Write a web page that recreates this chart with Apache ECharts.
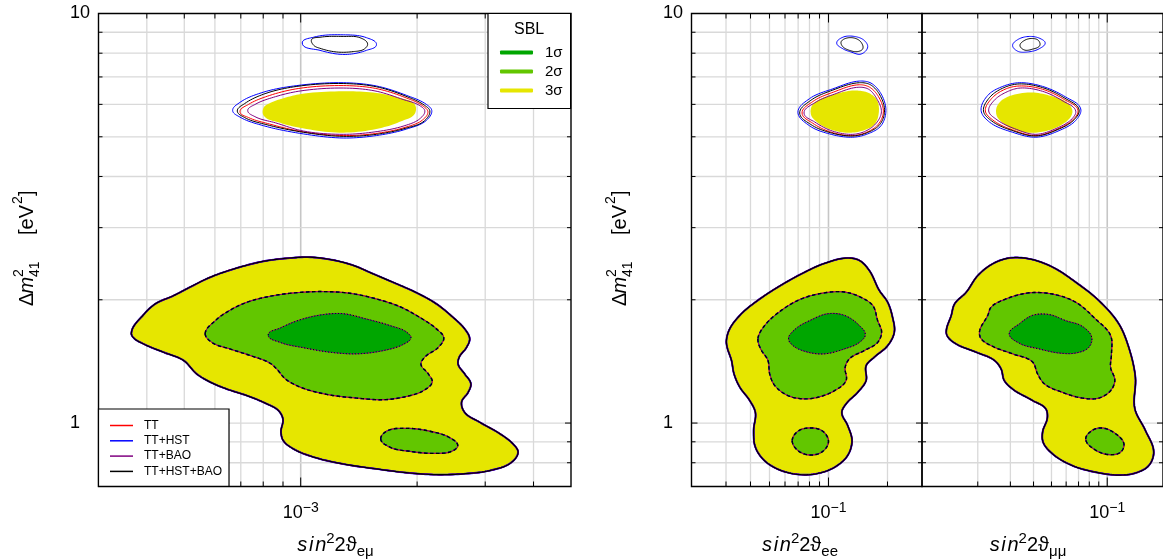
<!DOCTYPE html>
<html><head><meta charset="utf-8">
<style>html,body{margin:0;padding:0;background:#fff;overflow:hidden}#c{width:1163px;height:559px}</style>
<script src="https://cdn.jsdelivr.net/npm/echarts@6/dist/echarts.min.js"></script>
</head><body><div id="c"></div>
<script>
// Contours as [log10(sin^2 2theta), log10(dm2_41)]
const emu3s=[[-3.438,.219],[-3.406,.265],[-3.376,.291],[-3.329,.311],[-3.286,.332],[-3.234,.356],[-3.174,.376],[-3.096,.395],[-3.028,.403],[-2.976,.405],[-2.916,.398],[-2.864,.385],[-2.812,.364],[-2.752,.340],[-2.700,.318],[-2.649,.291],[-2.606,.258],[-2.576,.230],[-2.563,.206],[-2.571,.185],[-2.590,.161],[-2.593,.144],[-2.576,.120],[-2.560,.096],[-2.567,.075],[-2.584,.051],[-2.576,.026],[-2.537,.002],[-2.485,-.026],[-2.451,-.051],[-2.438,-.071],[-2.455,-.096],[-2.511,-.116],[-2.580,-.124],[-2.649,-.126],[-2.718,-.122],[-2.804,-.112],[-2.890,-.100],[-2.967,-.083],[-3.019,-.063],[-3.045,-.043],[-3.051,-.022],[-3.046,.010],[-3.058,.031],[-3.088,.047],[-3.139,.067],[-3.191,.083],[-3.234,.100],[-3.269,.120],[-3.303,.153],[-3.355,.173],[-3.406,.193],[-3.432,.208]];
const emu2s=[[-3.247,.218],[-3.221,.250],[-3.191,.271],[-3.139,.295],[-3.071,.311],[-3.002,.319],[-2.941,.321],[-2.873,.317],[-2.804,.303],[-2.743,.284],[-2.692,.258],[-2.649,.230],[-2.630,.208],[-2.644,.185],[-2.679,.161],[-2.689,.144],[-2.670,.120],[-2.660,.100],[-2.683,.079],[-2.726,.065],[-2.786,.057],[-2.855,.061],[-2.933,.070],[-3.002,.088],[-3.040,.108],[-3.062,.132],[-3.079,.146],[-3.131,.165],[-3.183,.181],[-3.230,.197]];
const emu1s=[[-3.084,.215],[-3.053,.232],[-3.002,.252],[-2.941,.265],[-2.890,.267],[-2.830,.254],[-2.769,.238],[-2.726,.222],[-2.715,.208],[-2.735,.192],[-2.786,.177],[-2.855,.169],[-2.924,.173],[-2.993,.184],[-3.053,.197]];
const emuIsle=[[-2.793,-.039],[-2.778,-.020],[-2.726,-.013],[-2.666,-.020],[-2.614,-.036],[-2.594,-.055],[-2.610,-.069],[-2.657,-.074],[-2.718,-.069],[-2.769,-.059]];
const emuTop3s=[[-3.096,.770],[-3.078,.782],[-3.045,.793],[-3.002,.803],[-2.890,.810],[-2.804,.806],[-2.750,.795],[-2.705,.778],[-2.705,.755],[-2.740,.737],[-2.795,.720],[-2.890,.709],[-2.985,.718],[-3.053,.733],[-3.096,.751]];
const emuTopHST=[[-3.176,.763],[-3.157,.783],[-3.096,.808],[-3.010,.824],[-2.890,.831],[-2.804,.823],[-2.726,.800],[-2.675,.778],[-2.661,.763],[-2.675,.739],[-2.726,.718],[-2.804,.702],[-2.890,.696],[-2.993,.706],[-3.096,.726],[-3.157,.747]];
const emuTopAll=[[-3.164,.762],[-3.145,.780],[-3.090,.805],[-3.010,.822],[-2.890,.829],[-2.804,.821],[-2.728,.798],[-2.680,.776],[-2.666,.762],[-2.680,.738],[-2.728,.720],[-2.804,.705],[-2.890,.700],[-2.993,.710],[-3.090,.729],[-3.145,.746]];
const emuTopTT=[[-3.157,.760],[-3.135,.778],[-3.080,.800],[-3.005,.817],[-2.890,.824],[-2.806,.817],[-2.730,.795],[-2.685,.775],[-2.671,.760],[-2.685,.740],[-2.730,.722],[-2.806,.707],[-2.890,.702],[-2.993,.711],[-3.080,.730],[-3.135,.746]];
const emuTopBAO=[[-3.137,.763],[-3.118,.778],[-3.065,.797],[-3.000,.811],[-2.890,.818],[-2.808,.811],[-2.735,.790],[-2.692,.775],[-2.679,.762],[-2.692,.743],[-2.735,.725],[-2.808,.711],[-2.890,.705],[-2.993,.713],[-3.065,.733],[-3.118,.748]];
const emuTinyHST=[[-2.996,.928],[-2.967,.942],[-2.890,.948],[-2.830,.941],[-2.804,.924],[-2.830,.910],[-2.885,.900],[-2.950,.910]];
const emuTinyAll=[[-2.972,.936],[-2.950,.942],[-2.890,.944],[-2.847,.941],[-2.827,.926],[-2.836,.913],[-2.864,.907],[-2.907,.906],[-2.950,.915],[-2.966,.922]];

const ee3s=[[-1.521,.201],[-1.504,.230],[-1.444,.267],[-1.368,.297],[-1.258,.332],[-1.139,.364],[-1.020,.390],[-.902,.403],[-.842,.397],[-.791,.372],[-.741,.324],[-.698,.295],[-.673,.258],[-.664,.222],[-.698,.189],[-.766,.161],[-.808,.140],[-.808,.104],[-.851,.075],[-.910,.047],[-.932,.026],[-.902,-.006],[-.880,-.043],[-.902,-.079],[-.969,-.108],[-1.054,-.123],[-1.139,-.126],[-1.241,-.116],[-1.326,-.092],[-1.373,-.059],[-1.382,-.018],[-1.373,.026],[-1.402,.055],[-1.453,.088],[-1.482,.120],[-1.495,.153],[-1.517,.185]];
const ee2s=[[-1.360,.206],[-1.326,.238],[-1.241,.275],[-1.139,.303],[-1.020,.318],[-.919,.320],[-.834,.307],[-.774,.287],[-.749,.250],[-.729,.222],[-.749,.197],[-.817,.177],[-.893,.157],[-.915,.136],[-.910,.104],[-.969,.079],[-1.054,.063],[-1.122,.059],[-1.207,.067],[-1.275,.092],[-1.300,.120],[-1.309,.153],[-1.346,.181]];
const ee1s=[[-1.204,.206],[-1.173,.228],[-1.088,.252],[-1.003,.267],[-.919,.263],[-.842,.238],[-.812,.216],[-.842,.197],[-.919,.181],[-1.020,.169],[-1.105,.173],[-1.181,.189]];
const eeIsle=[[-1.185,-.043],[-1.156,-.020],[-1.093,-.012],[-1.029,-.020],[-1.000,-.045],[-1.029,-.069],[-1.093,-.078],[-1.156,-.067]];
const eeTop3s=[[-1.088,.771],[-1.063,.785],[-.961,.804],[-.859,.812],[-.791,.805],[-.752,.788],[-.744,.755],[-.766,.729],[-.825,.714],[-.910,.709],[-1.012,.721],[-1.071,.740],[-1.088,.751]];
const eeTopHST=[[-1.156,.759],[-1.097,.792],[-.978,.816],[-.842,.835],[-.783,.830],[-.732,.804],[-.707,.763],[-.732,.726],[-.800,.706],[-.876,.698],[-.995,.706],[-1.097,.726]];
const eeTopAll=[[-1.147,.757],[-1.090,.788],[-.978,.813],[-.842,.831],[-.786,.826],[-.738,.801],[-.714,.762],[-.738,.729],[-.802,.709],[-.876,.701],[-.990,.709],[-1.090,.729]];
const eeTopTT=[[-1.135,.757],[-1.080,.785],[-.975,.808],[-.842,.826],[-.790,.820],[-.745,.797],[-.720,.760],[-.745,.730],[-.805,.710],[-.876,.702],[-.985,.710],[-1.080,.732]];
const eeTopBAO=[[-1.125,.757],[-1.070,.782],[-.970,.803],[-.845,.820],[-.795,.815],[-.755,.793],[-.730,.760],[-.755,.733],[-.810,.713],[-.876,.705],[-.980,.713],[-1.070,.735]];
const eeTinyHST=[[-.958,.928],[-.927,.942],[-.868,.944],[-.817,.934],[-.800,.918],[-.834,.901],[-.885,.906],[-.927,.914]];
const eeTinyAll=[[-.936,.930],[-.919,.938],[-.868,.940],[-.834,.930],[-.825,.914],[-.851,.907],[-.893,.910],[-.927,.919]];

const mm3s=[[-1.869,.222],[-1.842,.263],[-1.824,.291],[-1.762,.319],[-1.699,.360],[-1.618,.389],[-1.529,.403],[-1.421,.401],[-1.296,.381],[-1.170,.344],[-1.045,.299],[-.937,.242],[-.884,.185],[-.848,.112],[-.851,.035],[-.794,-.018],[-.749,-.071],[-.776,-.104],[-.848,-.122],[-.937,-.127],[-1.063,-.120],[-1.188,-.104],[-1.296,-.075],[-1.346,-.047],[-1.349,-.022],[-1.323,.014],[-1.332,.035],[-1.403,.055],[-1.511,.083],[-1.556,.104],[-1.573,.132],[-1.609,.153],[-1.708,.173],[-1.815,.193],[-1.860,.210]];
const mm2s=[[-1.690,.222],[-1.645,.263],[-1.627,.283],[-1.547,.303],[-1.421,.318],[-1.296,.315],[-1.170,.295],[-1.063,.254],[-.982,.214],[-.977,.169],[-.982,.136],[-.959,.104],[-.982,.079],[-1.045,.061],[-1.134,.061],[-1.242,.075],[-1.340,.096],[-1.376,.120],[-1.403,.149],[-1.511,.169],[-1.618,.187],[-1.681,.206]];
const mm1s=[[-1.529,.218],[-1.475,.242],[-1.403,.263],[-1.314,.265],[-1.224,.250],[-1.134,.236],[-1.084,.210],[-1.099,.185],[-1.170,.171],[-1.260,.171],[-1.367,.181],[-1.475,.195]];
const mmIsle=[[-1.116,-.039],[-1.081,-.018],[-1.027,-.012],[-.955,-.026],[-.910,-.051],[-.928,-.071],[-.991,-.077],[-1.063,-.066]];
const mmTop3s=[[-1.597,.771],[-1.564,.790],[-1.430,.807],[-1.314,.800],[-1.206,.778],[-1.188,.759],[-1.224,.735],[-1.385,.709],[-1.511,.718],[-1.575,.737],[-1.597,.751]];
const mmTopHST=[[-1.681,.763],[-1.645,.800],[-1.564,.822],[-1.475,.831],[-1.349,.822],[-1.224,.796],[-1.143,.767],[-1.170,.739],[-1.260,.714],[-1.385,.698],[-1.511,.710],[-1.636,.735]];
const mmTopAll=[[-1.668,.762],[-1.635,.795],[-1.558,.819],[-1.475,.828],[-1.349,.819],[-1.228,.793],[-1.152,.765],[-1.178,.741],[-1.265,.717],[-1.385,.701],[-1.505,.713],[-1.625,.738]];
const mmTopTT=[[-1.658,.762],[-1.625,.792],[-1.552,.815],[-1.475,.823],[-1.349,.815],[-1.232,.790],[-1.158,.764],[-1.182,.742],[-1.268,.718],[-1.385,.702],[-1.500,.714],[-1.618,.740]];
const mmTopBAO=[[-1.640,.762],[-1.610,.788],[-1.540,.809],[-1.470,.818],[-1.349,.810],[-1.238,.786],[-1.170,.762],[-1.190,.743],[-1.272,.720],[-1.385,.705],[-1.490,.717],[-1.600,.742]];
const mmTinyHST=[[-1.511,.922],[-1.484,.936],[-1.421,.944],[-1.358,.938],[-1.335,.928],[-1.367,.914],[-1.430,.906],[-1.484,.908]];
const mmTinyAll=[[-1.471,.922],[-1.448,.934],[-1.403,.939],[-1.371,.934],[-1.364,.922],[-1.403,.913],[-1.448,.911]];

const yGrid=[0.8,0.9,1,2,3,4,5,6,7,8,9];
const xGridEmu=[4e-4,5e-4,6e-4,7e-4,8e-4,9e-4,1e-3,2e-3,3e-3,4e-3];
const xGridEe=[.03,.04,.05,.06,.07,.08,.09,.1,.2];
const xGridMm=[.02,.03,.04,.05,.06,.07,.08,.09,.1];
const legendSBL=['1σ','2σ','3σ'];
const legendCosmo=['TT','TT+HST','TT+BAO','TT+HST+BAO'];

const FONT="'Liberation Sans','DejaVu Sans',sans-serif";
const FILL={'1σ':'#00a600','2σ':'#62c600','3σ':'#e6e600'};
const LINE={'TT':'#ff0000','TT+HST':'#0000ff','TT+BAO':'#800080','TT+HST+BAO':'#000000'};
const panels=[
 {x:[3e-4,5e-3],rect:[98.5,13.5,472.5,473],grid:xGridEmu,major:1e-3,exp:'−3',labels:true,
  c3:emu3s,c2:emu2s,c1:emu1s,isle:emuIsle,top:emuTop3s,topL:{'TT':emuTopTT,'TT+HST':emuTopHST,'TT+BAO':emuTopBAO,'TT+HST+BAO':emuTopAll},tiny:emuTinyHST,tinyAll:emuTinyAll},
 {x:[.02,.3],rect:[691.5,13.5,230.5,473],grid:xGridEe,major:.1,exp:'−1',labels:true,
  c3:ee3s,c2:ee2s,c1:ee1s,isle:eeIsle,top:eeTop3s,topL:{'TT':eeTopTT,'TT+HST':eeTopHST,'TT+BAO':eeTopBAO,'TT+HST+BAO':eeTopAll},tiny:eeTinyHST,tinyAll:eeTinyAll},
 {x:[.01,.2],rect:[922,13.5,242,473],grid:xGridMm,major:.1,exp:'−1',labels:false,
  c3:mm3s,c2:mm2s,c1:mm1s,isle:mmIsle,top:mmTop3s,topL:{'TT':mmTopTT,'TT+HST':mmTopHST,'TT+BAO':mmTopBAO,'TT+HST+BAO':mmTopAll},tiny:mmTinyHST,tinyAll:mmTinyAll}
];
const lift=a=>a.map(p=>[Math.pow(10,p[0]),Math.pow(10,p[1])]);
const near=(a,b)=>Math.abs(a/b-1)<1e-6;

// Closed curve through the projected anchors, tangents from neighbouring chords.
function curve(anchors){
  const n=anchors.length,out=[],unit=(a,b)=>{const x=b[0]-a[0],y=b[1]-a[1],d=Math.hypot(x,y)||1;return [x/d,y/d,d];};
  const tan=anchors.map((p,i)=>{
    const u=unit(anchors[(i+n-1)%n],p),w=unit(p,anchors[(i+1)%n]);
    const x=u[0]+w[0],y=u[1]+w[1],d=Math.hypot(x,y)||1;return [x/d,y/d];});
  for(let i=0;i<n;i++){
    const a=anchors[i],b=anchors[(i+1)%n],d=unit(a,b)[2]/3;
    const c1=[a[0]+tan[i][0]*d,a[1]+tan[i][1]*d],c2=[b[0]-tan[(i+1)%n][0]*d,b[1]-tan[(i+1)%n][1]*d];
    for(let k=0;k<10;k++){
      const t=k/10,s=1-t;
      out.push([s*s*s*a[0]+3*s*s*t*c1[0]+3*s*t*t*c2[0]+t*t*t*b[0],
                s*s*s*a[1]+3*s*s*t*c1[1]+3*s*t*t*c2[1]+t*t*t*b[1]]);
    }
  }
  return out;
}
function contour(i,name,pts,style,z){
  const data=lift(pts);
  return {type:'custom',name,xAxisIndex:i,yAxisIndex:i,z,silent:true,
    itemStyle:{color:style.fill||style.stroke},data,
    renderItem(params,api){
      if(params.dataIndex!==0)return null;
      return {type:'polygon',shape:{points:curve(data.map(d=>api.coord(d)))},
        style:{fill:style.fill||'none',stroke:style.stroke||'none',lineWidth:style.lw||0,
               lineDash:style.dash||null,lineDashOffset:style.off||0}};
    }};
}
function gridSeries(i,p){
  return [
  {type:'custom',xAxisIndex:i,yAxisIndex:i,z:1,silent:true,data:p.grid.map(v=>[v,1]),
   renderItem(params,api){
     const v=api.value(0),c=params.coordSys,X=api.coord([v,1])[0],m=near(v,p.major),t=m?9:5;
     return {type:'group',children:[
       {type:'line',shape:{x1:X,y1:c.y,x2:X,y2:c.y+c.height},style:{stroke:m?'#c6c6c6':'#d9d9d9',lineWidth:m?1.6:1.3}},
       {type:'line',z2:5,shape:{x1:X,y1:c.y,x2:X,y2:c.y+t},style:{stroke:'#000',lineWidth:1}},
       {type:'line',z2:5,shape:{x1:X,y1:c.y+c.height,x2:X,y2:c.y+c.height-t},style:{stroke:'#000',lineWidth:1}}]};
   }},
  {type:'custom',xAxisIndex:i,yAxisIndex:i,z:1,silent:true,data:yGrid.map(v=>[p.major,v]),
   renderItem(params,api){
     const v=api.value(1),c=params.coordSys,Y=api.coord([p.major,v])[1],t=near(v,1)?6:4;
     return {type:'group',children:[
       {type:'line',shape:{x1:c.x,y1:Y,x2:c.x+c.width,y2:Y},style:{stroke:'#d9d9d9',lineWidth:1.3}},
       {type:'line',z2:5,shape:{x1:c.x,y1:Y,x2:c.x+t,y2:Y},style:{stroke:'#000',lineWidth:1}},
       {type:'line',z2:5,shape:{x1:c.x+c.width,y1:Y,x2:c.x+c.width-t,y2:Y},style:{stroke:'#000',lineWidth:1}}]};
   }},
  {type:'custom',xAxisIndex:i,yAxisIndex:i,z:6,silent:true,data:[[p.major,1]],
   renderItem(params){
     const c=params.coordSys;
     return {type:'rect',shape:{x:c.x,y:c.y,width:c.width,height:c.height},style:{fill:'none',stroke:'#000',lineWidth:1.4}};
   }}];
}
const series=[];
panels.forEach((p,i)=>{
  series.push(...gridSeries(i,p));
  series.push(contour(i,'3σ',p.c3,{fill:FILL['3σ']},2));
  series.push(contour(i,'3σ',p.top,{fill:FILL['3σ']},2));
  series.push(contour(i,'2σ',p.c2,{fill:FILL['2σ']},2));
  series.push(contour(i,'2σ',p.isle,{fill:FILL['2σ'],stroke:FILL['2σ'],lw:1.5},2));
  series.push(contour(i,'1σ',p.c1,{fill:FILL['1σ']},2));
  const offs={'TT':3.5,'TT+HST':0,'TT+BAO':3.5,'TT+HST+BAO':0};
  legendCosmo.forEach(n=>{
    const col=LINE[n],lw3=n==='TT+HST'?1.9:n==='TT+HST+BAO'?1.2:1.4,dark=n==='TT+HST+BAO'||n==='TT+HST';
    series.push(contour(i,n,p.c3,{stroke:col,lw:lw3},3));
    [p.c2,p.isle].forEach(c=>series.push(contour(i,n,c,{stroke:col,lw:dark?1.4:1,dash:[3.5,2.5],off:offs[n]},3)));
    series.push(contour(i,n,p.c1,{stroke:col,lw:1,dash:[1,2],off:offs[n]/3},3));
    series.push(contour(i,n,p.topL[n],{stroke:col,lw:1},3));
  });
  series.push(contour(i,'TT+HST',p.tiny,{stroke:LINE['TT+HST'],lw:1},3));
  series.push(contour(i,'TT+HST+BAO',p.tinyAll,{stroke:LINE['TT+HST+BAO'],lw:1},3));
});

const TXT={fontFamily:FONT,color:'#000'};
function xTitle(cx,sub){
  return {type:'text',z:30,x:cx,y:545,silent:true,style:{
    text:'{i|s\u200Ai\u200An}{u|2}{n|2ϑ}{d|'+sub+'}',align:'center',verticalAlign:'middle',
    rich:{i:{fontFamily:FONT,fontStyle:'italic',fontSize:20,lineHeight:28,fill:'#000'},
          u:{fontFamily:FONT,fontSize:15,verticalAlign:'top',lineHeight:15},
          n:{fontFamily:FONT,fontSize:20,lineHeight:28},
          d:{fontFamily:FONT,fontSize:15,verticalAlign:'bottom',lineHeight:15}}}};
}
function yTitle(px){
  const st=(s,f,it)=>({text:s,fontFamily:FONT,fontSize:f,fontStyle:it?'italic':'normal',fill:'#000',verticalAlign:'middle'});
  return {type:'group',x:px,y:306,rotation:Math.PI/2,silent:true,z:30,children:[
    {type:'text',x:0,y:0,z:30,style:st('Δ',20)},
    {type:'text',x:12.5,y:0,z:30,style:st('m',20,true)},
    {type:'text',x:29,y:-8,z:30,style:st('2',14)},
    {type:'text',x:29,y:8,z:30,style:st('41',14)},
    {type:'text',x:71,y:0,z:30,style:st('[eV',20)},
    {type:'text',x:102,y:-9,z:30,style:st('2',14)},
    {type:'text',x:110,y:0,z:30,style:st(']',20)}
  ]};
}
const option={
  animation:false,backgroundColor:'#fff',
  grid:panels.map(p=>({left:p.rect[0],top:p.rect[1],width:p.rect[2],height:p.rect[3],show:false,containLabel:false})),
  xAxis:panels.map(p=>({type:'log',logBase:10,gridIndex:panels.indexOf(p),min:p.x[0],max:p.x[1],
    axisLine:{show:false},axisTick:{show:false},splitLine:{show:false},minorTick:{show:false},minorSplitLine:{show:false},
    axisLabel:{show:true,margin:15,hideOverlap:false,showMinLabel:false,showMaxLabel:false,
      formatter:v=>near(v,p.major)?'{a|10}{b|'+p.exp+'}':'',
      rich:{a:{fontFamily:FONT,fontSize:18,lineHeight:24,color:'#000'},b:{fontFamily:FONT,fontSize:14,verticalAlign:'top',lineHeight:14,color:'#000'}}}})),
  yAxis:panels.map(p=>({type:'log',logBase:10,gridIndex:panels.indexOf(p),min:.7,max:10,
    axisLine:{show:false},axisTick:{show:false},splitLine:{show:false},minorTick:{show:false},minorSplitLine:{show:false},
    axisLabel:{show:p.labels,margin:28.5,align:'left',fontFamily:FONT,fontSize:18,color:'#000',
      formatter:v=>near(v,1)?'1':near(v,10)?'10':''}})),
  legend:[
    {z:20,left:488,top:13.5,orient:'vertical',padding:[31.5,8,10.5,12],itemGap:4,itemWidth:33,itemHeight:4,
     icon:'roundRect',itemStyle:{borderWidth:0},backgroundColor:'#fff',borderColor:'#000',borderWidth:1.2,
     textStyle:{...TXT,fontSize:15,padding:[0,0,0,7]},selectedMode:false,
     data:legendSBL.map(n=>({name:n,itemStyle:{color:FILL[n]}}))},
    {z:20,left:98.5,top:409,orient:'vertical',padding:[10.5,7,9,11.5],itemGap:3.3,itemWidth:23,itemHeight:1.5,
     icon:'rect',backgroundColor:'#fff',borderColor:'#000',borderWidth:1.2,
     textStyle:{...TXT,fontSize:12,padding:[0,0,0,6]},selectedMode:false,
     data:legendCosmo.map(n=>({name:n,itemStyle:{color:LINE[n]}}))}
  ],
  title:{text:'SBL',left:514,top:22,z:30,padding:0,textStyle:{...TXT,fontSize:16,fontWeight:'normal'}},
  graphic:{elements:[xTitle(335.5,'eμ'),xTitle(800,'ee'),xTitle(1028,'μμ'),yTitle(27),yTitle(620)]},
  series
};
echarts.init(document.getElementById('c'),null,{renderer:'canvas'}).setOption(option);
</script></body></html>
